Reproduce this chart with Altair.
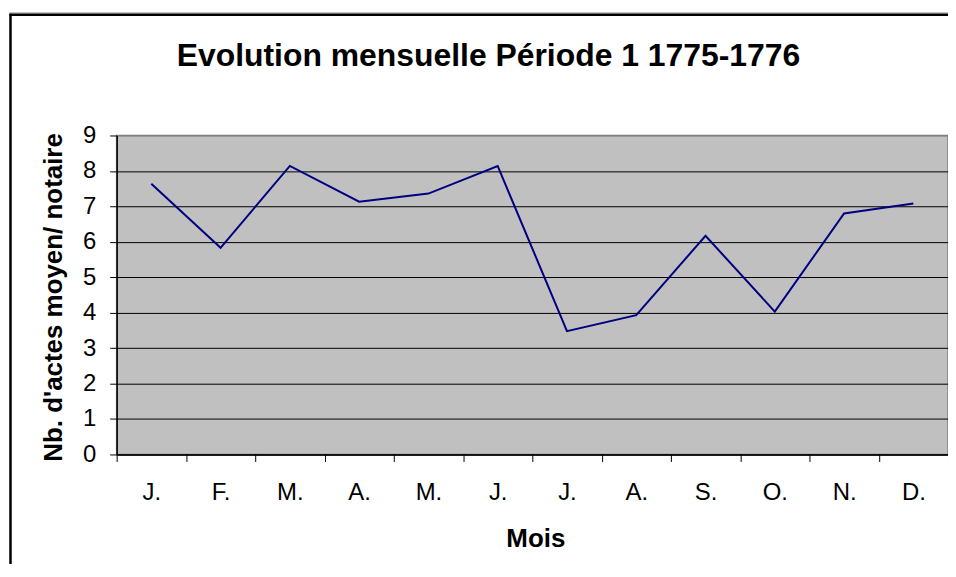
import json
import altair as alt
import pandas as pd

months = ["J.", "F.", "M.", "A.", "M.", "J.", "J.", "A.", "S.", "O.", "N.", "D."]
values = [7.64, 5.83, 8.14, 7.13, 7.36, 8.14, 3.48, 3.93, 6.17, 4.03, 6.80, 7.08]
y_ticks = [0, 1, 2, 3, 4, 5, 6, 7, 8, 9]
title_text = "Evolution mensuelle Période 1 1775-1776"

df = pd.DataFrame({"idx": list(range(len(months))), "month": months, "value": values})
label_expr = json.dumps(months) + "[datum.value]"

FONT = "Liberation Sans"

line = alt.Chart(df).mark_line(color="#000080", strokeWidth=2).encode(
    x=alt.X(
        "idx:O",
        scale=alt.Scale(type="band", paddingInner=0, paddingOuter=0),
        axis=alt.Axis(
            title="Mois",
            labelExpr=label_expr,
            labelAngle=0,
            labelFont=FONT,
            labelFontSize=24,
            labelColor="black",
            labelBaseline="alphabetic",
            labelPadding=38,
            tickBand="extent",
            tickSize=7,
            tickColor="black",
            domainColor="black",
            domainWidth=1.5,
            grid=False,
            titleFont=FONT,
            titleFontSize=26,
            titleFontWeight="bold",
            titleColor="black",
            titleBaseline="alphabetic",
            titleX=420,
            titleY=92,
        ),
    ),
    y=alt.Y(
        "value:Q",
        scale=alt.Scale(domain=[0, 9], nice=False, zero=True),
        axis=alt.Axis(
            title="Nb. d'actes moyen/ notaire",
            values=y_ticks,
            labelFont=FONT,
            labelFontSize=24,
            labelColor="black",
            labelPadding=14,
            tickSize=7,
            tickColor="black",
            domainColor="black",
            domainWidth=1.5,
            grid=True,
            gridColor={"condition": {"test": "datum.value == 9", "value": "#808080"}, "value": "black"},
            gridWidth=1,
            gridOpacity=1,
            titleFont=FONT,
            titleFontSize=26,
            titleFontWeight="bold",
            titleColor="black",
            titleAngle=-90,
            titleBaseline="alphabetic",
            titleAlign="center",
            titleX=-55,
            titleY=162,
        ),
    ),
)

one = pd.DataFrame({"t": [title_text]})

frame_top = alt.Chart(one).mark_rule(color="black", strokeWidth=2.5).encode(
    x=alt.value(-107.5), x2=alt.value(834), y=alt.value(-121)
)
frame_left = alt.Chart(one).mark_rule(color="black", strokeWidth=2.5).encode(
    x=alt.value(-106.5), y=alt.value(-122), y2=alt.value(430)
)
frame_shade = alt.Chart(one).mark_rule(color="#A0A0A0", strokeWidth=1).encode(
    x=alt.value(-107.5), x2=alt.value(834), y=alt.value(-123)
)

title = alt.Chart(one).mark_text(
    font=FONT, fontSize=32, fontWeight="bold", color="black",
    align="center", baseline="alphabetic"
).encode(
    text="t:N", x=alt.value(373), y=alt.value(-70)
)

chart = alt.layer(frame_shade, frame_top, frame_left, line, title).properties(
    width=834,
    height=320,
    autosize=alt.AutoSizeParams(type="none"),
    padding={"left": 109, "top": 127, "right": 0, "bottom": 110},
).configure(
    background="white"
).configure_view(
    fill="#C0C0C0", stroke="#808080", strokeWidth=1.5
)

chart.save("out.html", embed_options={"renderer": "svg", "actions": False})
